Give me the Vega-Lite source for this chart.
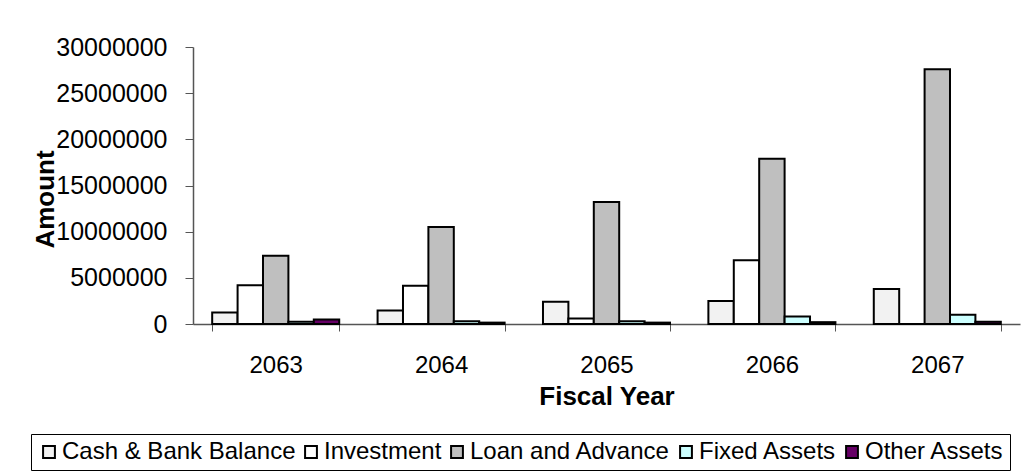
{
  "$schema": "https://vega.github.io/schema/vega-lite/v6.json",
  "autosize": "none",
  "width": 827,
  "height": 277,
  "padding": {"left": 193, "top": 47, "right": 5, "bottom": 149},
  "background": "white",
  "config": {
    "view": {"stroke": null},
    "font": "Liberation Sans"
  },
  "data": {
    "values": [
      {"year": "2063", "item": "Cash & Bank Balance", "amount": 1250000},
      {"year": "2063", "item": "Investment", "amount": 4200000},
      {"year": "2063", "item": "Loan and Advance", "amount": 7400000},
      {"year": "2063", "item": "Fixed Assets", "amount": 250000},
      {"year": "2063", "item": "Other Assets", "amount": 500000},
      {"year": "2064", "item": "Cash & Bank Balance", "amount": 1450000},
      {"year": "2064", "item": "Investment", "amount": 4150000},
      {"year": "2064", "item": "Loan and Advance", "amount": 10500000},
      {"year": "2064", "item": "Fixed Assets", "amount": 300000},
      {"year": "2064", "item": "Other Assets", "amount": 150000},
      {"year": "2065", "item": "Cash & Bank Balance", "amount": 2400000},
      {"year": "2065", "item": "Investment", "amount": 600000},
      {"year": "2065", "item": "Loan and Advance", "amount": 13200000},
      {"year": "2065", "item": "Fixed Assets", "amount": 300000},
      {"year": "2065", "item": "Other Assets", "amount": 150000},
      {"year": "2066", "item": "Cash & Bank Balance", "amount": 2500000},
      {"year": "2066", "item": "Investment", "amount": 6900000},
      {"year": "2066", "item": "Loan and Advance", "amount": 17900000},
      {"year": "2066", "item": "Fixed Assets", "amount": 800000},
      {"year": "2066", "item": "Other Assets", "amount": 200000},
      {"year": "2067", "item": "Cash & Bank Balance", "amount": 3800000},
      {"year": "2067", "item": "Investment", "amount": 0},
      {"year": "2067", "item": "Loan and Advance", "amount": 27600000},
      {"year": "2067", "item": "Fixed Assets", "amount": 1000000},
      {"year": "2067", "item": "Other Assets", "amount": 250000}
    ]
  },
  "mark": {"type": "bar", "stroke": "black", "strokeWidth": 2},
  "encoding": {
    "x": {
      "field": "year",
      "type": "nominal",
      "scale": {"paddingInner": 0.232, "paddingOuter": 0.116},
      "axis": {
        "title": "Fiscal Year",
        "titleFontSize": 26,
        "titleFontWeight": "bold",
        "titleColor": "black",
        "titlePadding": 6,
        "labelAngle": 0,
        "labelFontSize": 24,
        "labelColor": "black",
        "labelPadding": 22,
        "tickBand": "extent",
        "tickSize": 7,
        "tickColor": "#555",
        "domainColor": "#555",
        "domainWidth": 1.5,
        "grid": false
      }
    },
    "xOffset": {
      "field": "item",
      "type": "nominal",
      "sort": ["Cash & Bank Balance", "Investment", "Loan and Advance", "Fixed Assets", "Other Assets"],
      "scale": {"paddingInner": 0, "paddingOuter": 0}
    },
    "y": {
      "field": "amount",
      "type": "quantitative",
      "scale": {"domain": [0, 30000000], "nice": false},
      "axis": {
        "title": "Amount",
        "titleFontSize": 26,
        "titleFontWeight": "bold",
        "titleColor": "black",
        "titleAngle": -90,
        "titleX": -148,
        "titleY": 152,
        "titleAlign": "center",
        "titleBaseline": "middle",
        "values": [0, 5000000, 10000000, 15000000, 20000000, 25000000, 30000000],
        "format": "d",
        "labelFontSize": 25,
        "labelColor": "black",
        "labelPadding": 18,
        "tickSize": 8,
        "tickColor": "#555",
        "domainColor": "#555",
        "domainWidth": 1.5,
        "grid": false
      }
    },
    "fill": {
      "field": "item",
      "type": "nominal",
      "sort": ["Cash & Bank Balance", "Investment", "Loan and Advance", "Fixed Assets", "Other Assets"],
      "scale": {
        "domain": ["Cash & Bank Balance", "Investment", "Loan and Advance", "Fixed Assets", "Other Assets"],
        "range": ["#f2f2f2", "#ffffff", "#bfbfbf", "#ccffff", "#660066"]
      },
      "legend": {
        "title": null,
        "orient": "none",
        "legendX": -162,
        "legendY": 387,
        "direction": "horizontal",
        "columns": 5,
        "symbolType": "square",
        "symbolSize": 140,
        "symbolStrokeColor": "black",
        "symbolStrokeWidth": 2,
        "symbolOpacity": 1,
        "labelFontSize": 24,
        "labelLimit": 600,
        "labelColor": "black",
        "labelOffset": 1,
        "columnPadding": 3,
        "padding": 6,
        "strokeColor": "black",
        "fillColor": "white"
      }
    }
  }
}
